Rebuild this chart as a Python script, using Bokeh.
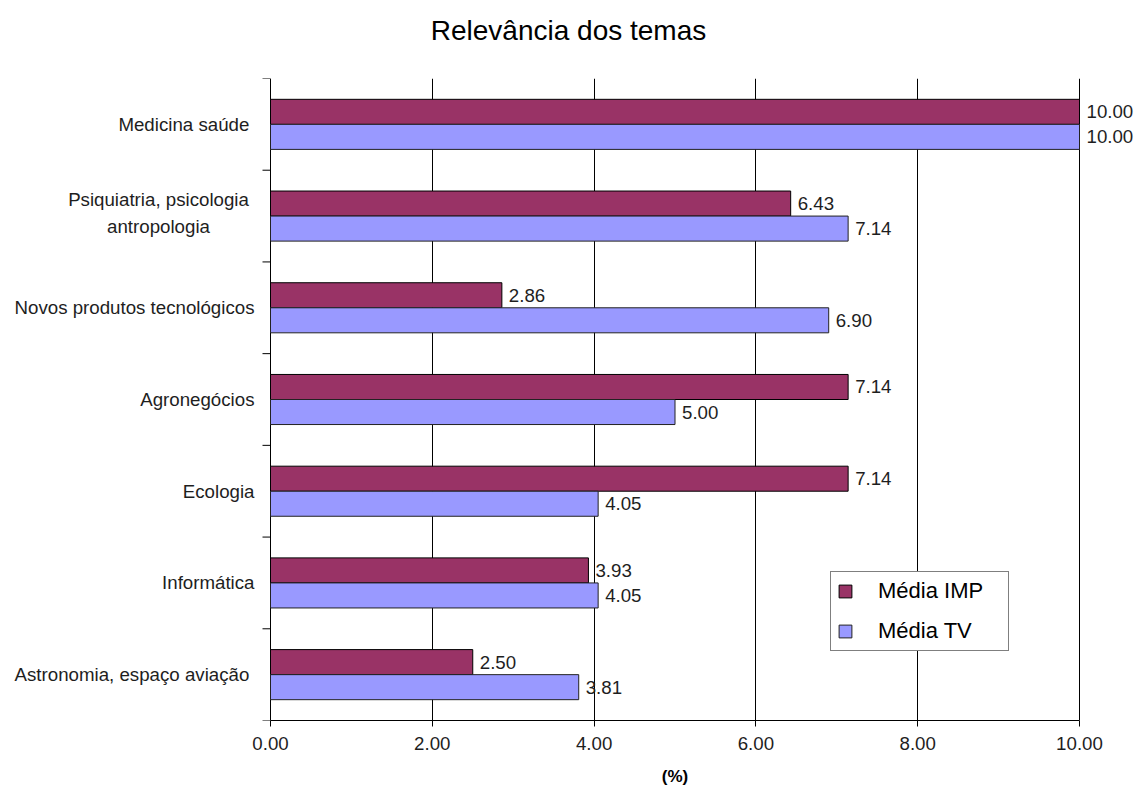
import math
from bokeh.plotting import figure
from bokeh.models import (ColumnDataSource, FixedTicker, LabelSet, Legend, Title,
                          LegendItem, Range1d, PrintfTickFormatter, LinearAxis)
from bokeh.core.properties import value
from bokeh.embed import file_html
from bokeh.resources import INLINE

categories = ["Medicina  saúde",
              "Psiquiatria, psicologia\nantropologia",
              "Novos produtos tecnológicos", "Agronegócios", "Ecologia",
              "Informática", "Astronomia, espaço  aviação"]
media_imp = [10.00, 6.43, 2.86, 7.14, 7.14, 3.93, 2.50]
media_tv = [10.00, 7.14, 6.90, 5.00, 4.05, 4.05, 3.81]
x_ticks = [0, 2, 4, 6, 8, 10]
series_names = ["Média IMP", "Média TV"]
colors = ["#993366", "#9999FF"]
title_text = "Relevância dos temas"
x_label = "(%)"

FONT = "Liberation Sans"
TXT = "#1e1e1e"
n = len(categories)
centers = [n - i - 0.5 for i in range(n)]
bar_h = 0.273
x_min, x_max = x_ticks[0], x_ticks[-1]

# layout: the value axis 0..10 spans canvas px 270..1079; the frame covers the full width
W, H = 1136, 791
left_px, right_px = 270, 1079
ppu = (right_px - left_px) / (x_max - x_min)
x_start = x_min - left_px / ppu
x_end = x_min + (W - left_px) / ppu

p = figure(width=W, height=H, x_range=Range1d(x_start, x_end), y_range=Range1d(0, n),
           output_backend="svg", toolbar_location=None, y_axis_location=None,
           min_border_left=0, min_border_right=0, min_border_top=78, min_border_bottom=71)
p.outline_line_color = None
p.background_fill_color = "white"
p.border_fill_color = "white"

# grid (the line at 0 doubles as the category axis line)
p.ygrid.grid_line_color = None
p.ygrid.visible = False
p.xgrid.ticker = FixedTicker(ticks=x_ticks)
p.xgrid.grid_line_color = "#000000"
p.xgrid.grid_line_width = 1

src_imp = ColumnDataSource(dict(y=[c + bar_h / 2 for c in centers], v=media_imp,
                                t=[f"{v:.2f}" for v in media_imp]))
src_tv = ColumnDataSource(dict(y=[c - bar_h / 2 for c in centers], v=media_tv,
                               t=[f"{v:.2f}" for v in media_tv]))

r_imp = p.hbar(y="y", left=x_min, right="v", height=bar_h, source=src_imp,
               fill_color=colors[0], line_color="#000000", line_width=1)
r_tv = p.hbar(y="y", left=x_min, right="v", height=bar_h, source=src_tv,
              fill_color=colors[1], line_color="#222222", line_width=1)

for src in (src_imp, src_tv):
    p.add_layout(LabelSet(x="v", y="y", text="t", source=src, x_offset=7,
                          text_baseline="middle", text_align="left",
                          text_font=value(FONT), text_font_size="18.7px",
                          text_color=TXT))

# category tick marks at the band boundaries
p.ray(x=[x_min] * (n + 1), y=list(range(n + 1)), length=8, length_units="screen",
      angle=math.pi, line_color="#000000", line_width=1)

# category labels
single = [(c, lab) for c, lab in zip(centers, categories) if "\n" not in lab]
multi = [(c, lab) for c, lab in zip(centers, categories) if "\n" in lab]
p.text(x=[x_min] * len(single), y=[c for c, _ in single], text=[l for _, l in single],
       x_offset=-16, text_align="right", text_baseline="middle",
       text_font=value(FONT), text_font_size="18.7px", text_color=TXT)
p.text(x=[x_min] * len(multi), y=[c for c, _ in multi], text=[l for _, l in multi],
       x_offset=-112, y_offset=-3, text_align="center", text_baseline="middle",
       text_line_height=1.3,
       text_font=value(FONT), text_font_size="18.7px", text_color=TXT)

# x axis
xa = p.xaxis[0]
xa.bounds = (x_min, x_max)
xa.ticker = FixedTicker(ticks=x_ticks, minor_ticks=[])
xa.formatter = PrintfTickFormatter(format="%.2f")
xa.major_tick_out = 6
xa.major_tick_in = 0
xa.minor_tick_out = 0
xa.axis_line_color = "#000000"
xa.major_tick_line_color = "#000000"
xa.major_label_text_font = FONT
xa.major_label_text_font_size = "18.7px"
xa.major_label_text_color = TXT
xa.major_label_standoff = 10

# axis title "(%)" centred under the value axis
mid = (x_min + x_max) / 2
xl = LinearAxis(ticker=FixedTicker(ticks=[mid], minor_ticks=[]),
                major_label_overrides={mid: x_label})
xl.axis_line_color = None
xl.major_tick_line_color = None
xl.minor_tick_line_color = None
xl.major_tick_out = 0
xl.major_tick_in = 0
xl.major_label_standoff = 14
xl.major_label_text_font = FONT
xl.major_label_text_font_style = "bold"
xl.major_label_text_font_size = "17px"
xl.major_label_text_color = "#000000"
p.add_layout(xl, "below")

# title (with a spacer title between it and the frame)
p.add_layout(Title(text=" ", text_font_size="14px"), "above")
p.add_layout(Title(text=title_text, align="center", text_font=FONT,
                   text_font_size="28px", text_font_style="normal",
                   text_color="#000000"), "above")

legend = Legend(items=[LegendItem(label=series_names[0], renderers=[r_imp]),
                       LegendItem(label=series_names[1], renderers=[r_tv])],
                location=(830, 69))
legend.border_line_color = "#000000"
legend.border_line_width = 1
legend.background_fill_color = "white"
legend.background_fill_alpha = 1
legend.label_text_font = FONT
legend.label_text_font_size = "22px"
legend.label_text_color = "#000000"
legend.glyph_width = 16
legend.glyph_height = 16
legend.label_height = 20
legend.label_width = 124
legend.spacing = 14
legend.padding = 6
legend.label_standoff = 25
legend.margin = 0
p.add_layout(legend)

open("out.html", "w").write(file_html(p, INLINE))
